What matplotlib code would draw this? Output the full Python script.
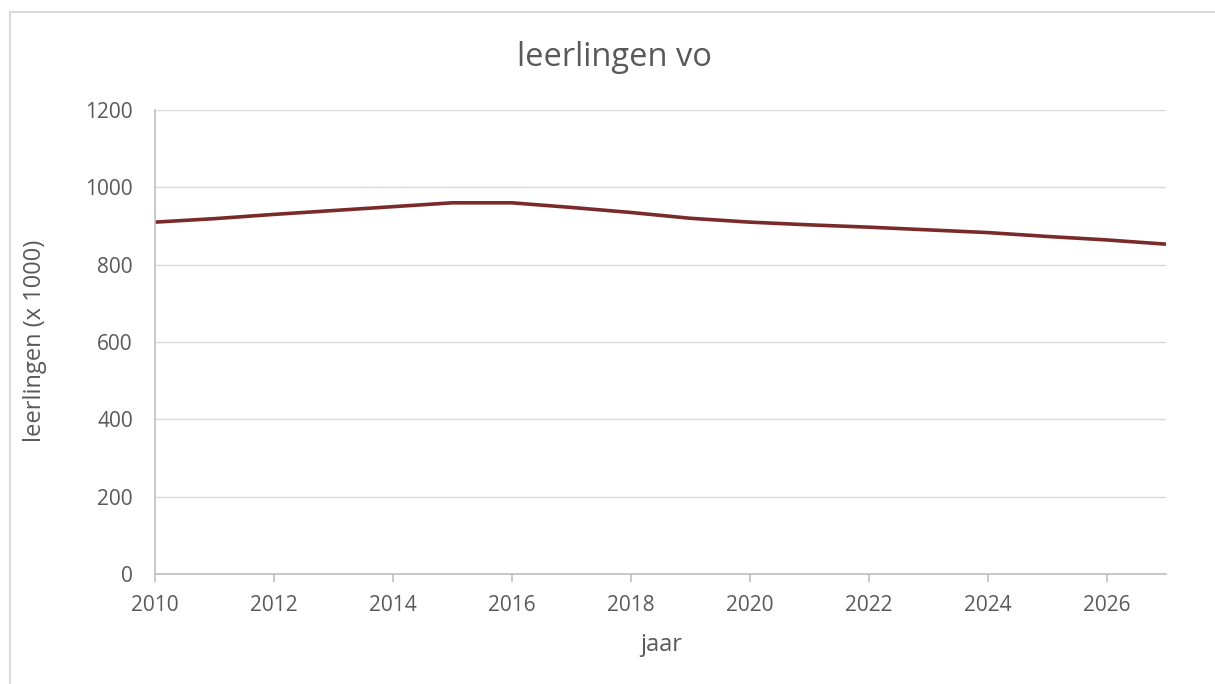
import matplotlib.pyplot as plt
from matplotlib.patches import Rectangle

years = list(range(2010, 2028))
leerlingen = [910, 919, 930, 940, 950, 960, 960, 948, 935, 920,
              910, 903, 897, 890, 883, 873, 864, 853]

x_ticks = list(range(2010, 2028, 2))
y_ticks = [0, 200, 400, 600, 800, 1000, 1200]

plt.rcParams['font.family'] = ['Open Sans', 'DejaVu Sans']
txt = '#595959'
W, H = 1215, 684

fig = plt.figure(figsize=(12.15, 6.84), dpi=100)
ax = fig.add_axes([155 / W, 110 / H, 1011 / W, 464 / H])

# chart border (top and left visible, rest falls off the image)
fig.patches.append(Rectangle((10 / W, -0.1), 1.2, (H - 12) / H + 0.1,
                             transform=fig.transFigure, fill=False,
                             edgecolor='#d9d9d9', linewidth=1.5))

ax.plot(years, leerlingen, color='#7b2a2a', linewidth=2.6, solid_capstyle='butt')

ax.set_xlim(2010, 2027)
ax.set_ylim(0, 1200)
ax.set_xticks(x_ticks)
ax.set_yticks(y_ticks)
ax.grid(axis='y', color='#d9d9d9', linewidth=1)
ax.set_axisbelow(True)

for s in ['top', 'right']:
    ax.spines[s].set_visible(False)
for s in ['left', 'bottom']:
    ax.spines[s].set_color('#bfbfbf')
    ax.spines[s].set_linewidth(1.2)

ax.tick_params(axis='x', colors='#bfbfbf', labelcolor=txt, labelsize=15,
               length=6, width=1.2, pad=9)
ax.tick_params(axis='y', length=0, labelcolor=txt, labelsize=15, pad=16)

fig.text(614 / W, 1 - 58 / H, 'leerlingen vo', fontsize=23.5, color=txt,
         ha='center', va='center')
fig.text(661 / W, 1 - 645 / H, 'jaar', fontsize=17, color=txt,
         ha='center', va='center')
fig.text(35 / W, 1 - 341 / H, 'leerlingen (x 1000)', fontsize=17, color=txt,
         ha='center', va='center', rotation=90)

fig.savefig('out.png', dpi=100)
